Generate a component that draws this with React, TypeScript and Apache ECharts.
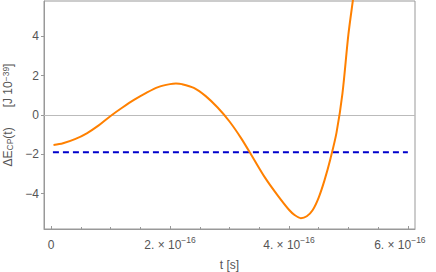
import React, { useEffect, useRef } from "react";
import * as echarts from "echarts";

// time in units of 1e-16 s, energy in units of 1e-39 J
const curveT = [0.04, 0.2, 0.4, 0.6, 0.8, 1.0, 1.2, 1.4, 1.6, 1.8, 2.0, 2.1, 2.2, 2.4, 2.6, 2.8, 3.0, 3.2, 3.4, 3.6, 3.8, 4.0, 4.1, 4.2, 4.3, 4.4, 4.5, 4.6, 4.7, 4.8, 4.9, 5.0, 5.1, 5.2];
const curveV = [-1.53, -1.44, -1.23, -0.93, -0.53, -0.05, 0.38, 0.78, 1.13, 1.42, 1.57, 1.6, 1.57, 1.38, 0.96, 0.38, -0.33, -1.2, -2.2, -3.2, -4.05, -4.82, -5.1, -5.25, -5.15, -4.83, -4.2, -3.3, -2.2, -0.9, 1.1, 4.1, 6.4, 9.0];
const constT = [0.03, 6.0];
const constV = [-1.9, -1.9];
const xTicks = [0, 2, 4, 6];
const xMinorTicks = [0.5, 1, 1.5, 2.5, 3, 3.5, 4.5, 5, 5.5];
const yTicks = [-4, -2, 0, 2, 4];

const AXIS = "#999999";
const TXT = "#555555";
const FONT = "Liberation Sans";

export default function App() {
  const ref = useRef<HTMLDivElement>(null);
  useEffect(() => {
    if (!ref.current) return;
    const chart = echarts.init(ref.current, undefined, { renderer: "svg" });
    const xFmt = (v: number) => {
      if (Math.abs(v) < 1e-9) return "{b|0}";
      const n = Math.round(v);
      if (n === 6) return "{b|6. × 10}{s|−16}{g| }";
      return `{b|${n}. × 10}{s|−16}`;
    };
    chart.setOption({
      animation: false,
      grid: { left: 44, right: 21, top: 1, bottom: 43, show: true, borderColor: AXIS, borderWidth: 1, containLabel: false, outerBoundsMode: "none" },
      xAxis: [
        {
          type: "value",
          min: -0.12,
          max: 6.12,
          name: "t [s]",
          nameLocation: "middle",
          nameGap: 30,
          nameTextStyle: { color: TXT, fontFamily: FONT, fontSize: 12 },
          axisLine: { show: true, onZero: false, lineStyle: { color: AXIS, width: 1 } },
          axisTick: { show: true, inside: true, length: 3, lineStyle: { color: AXIS }, customValues: xTicks },
          axisLabel: {
            show: true,
            customValues: xTicks,
            margin: 6,
            formatter: xFmt,
            rich: {
              b: { color: TXT, fontFamily: FONT, fontSize: 12, lineHeight: 16, verticalAlign: "bottom" },
              s: { color: TXT, fontFamily: FONT, fontSize: 8.5, lineHeight: 9, verticalAlign: "top" },
              g: { width: 16, fontSize: 8 },
            },
          },
          splitLine: { show: false },
        },
        {
          type: "value",
          min: -0.12,
          max: 6.12,
          position: "bottom",
          axisLine: { show: false, onZero: false },
          axisTick: { show: true, inside: true, length: 2, lineStyle: { color: AXIS }, customValues: xMinorTicks },
          axisLabel: { show: false },
          splitLine: { show: false },
        },
      ],
      yAxis: {
        type: "value",
        min: -5.8,
        max: 5.8,
        name: "ΔE{sub|CP}(t)      [J 10{sup|−39}]",
        nameLocation: "middle",
        nameRotate: 90,
        nameGap: 24,
        nameTextStyle: {
          color: TXT,
          fontFamily: FONT,
          fontSize: 12,
          lineHeight: 13,
          rich: {
            sub: { color: TXT, fontFamily: FONT, fontSize: 8.5, lineHeight: 8, verticalAlign: "bottom" },
            sup: { color: TXT, fontFamily: FONT, fontSize: 8.5, lineHeight: 8, verticalAlign: "top" },
          },
        },
        axisLine: { show: true, onZero: false, lineStyle: { color: AXIS, width: 1 } },
        axisTick: { show: true, inside: false, length: 3, lineStyle: { color: AXIS }, customValues: yTicks },
        axisLabel: {
          customValues: yTicks,
          margin: 5,
          color: TXT,
          fontFamily: FONT,
          fontSize: 12,
          formatter: (v: number) => (v < 0 ? "−" + Math.abs(v) : String(v)),
        },
        splitLine: { show: false },
      },
      series: [
        {
          type: "line",
          data: constT.map((t, i) => [t, constV[i]]),
          showSymbol: false,
          lineStyle: { color: "#0000cc", width: 2, type: [6, 4] },
          z: 3,
          silent: true,
        },
        {
          type: "line",
          data: curveT.map((t, i) => [t, curveV[i]]),
          smooth: 0.3,
          showSymbol: false,
          clip: true,
          lineStyle: { color: "#ff8000", width: 2 },
          z: 4,
          silent: true,
          markLine: {
            silent: true,
            symbol: ["none", "none"],
            label: { show: false },
            lineStyle: { color: "#bbbbbb", width: 1, type: "solid" },
            data: [{ yAxis: 0 }],
            z: 1,
          },
        },
      ],
    });
    return () => chart.dispose();
  }, []);
  return <div ref={ref} style={{ width: 436, height: 272, position: "absolute", left: 0, top: 0 }} />;
}
